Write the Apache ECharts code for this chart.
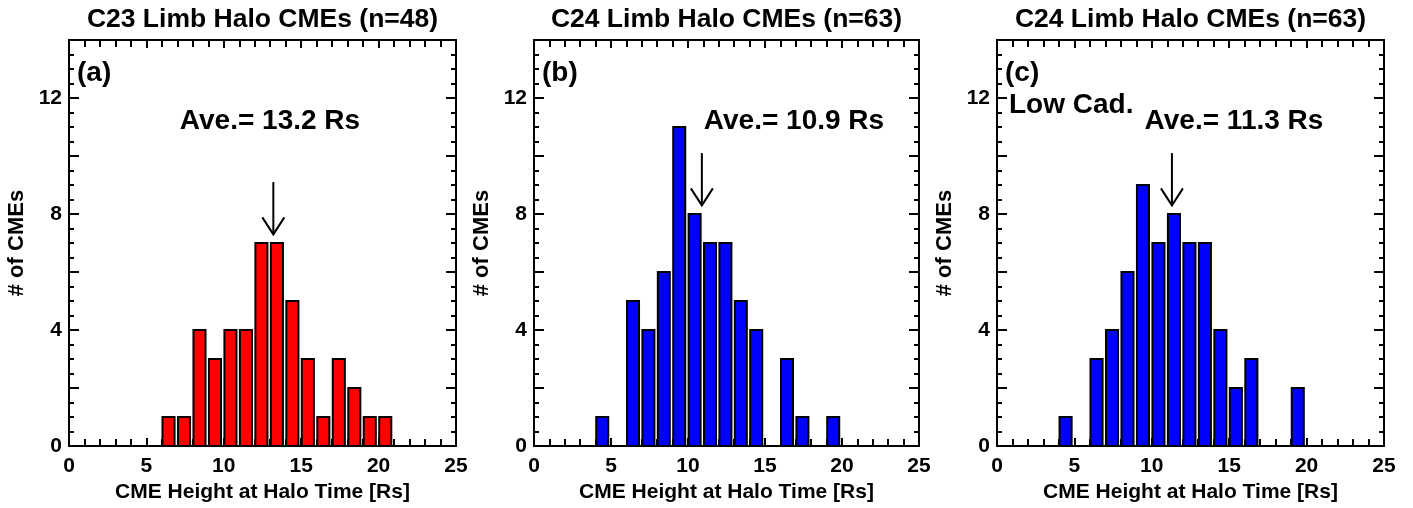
<!DOCTYPE html>
<html>
<head>
<meta charset="utf-8">
<script src="https://cdn.jsdelivr.net/npm/echarts@6/dist/echarts.min.js"></script>
<style>
html,body{margin:0;padding:0;background:#fff;}
#chart{width:1413px;height:508px;}
</style>
</head>
<body>
<div id="chart"></div>
<script>
// ---- data ----
const panelTitles = ['C23 Limb Halo CMEs (n=48)', 'C24 Limb Halo CMEs (n=63)', 'C24 Limb Halo CMEs (n=63)'];
const panelLabels = ['(a)', '(b)', '(c)'];
const extraLabels = ['', '', 'Low Cad.'];
const binsA = [6, 7, 8, 9, 10, 11, 12, 13, 14, 15, 16, 17, 18, 19, 20];
const countsA = [1, 1, 4, 3, 4, 4, 7, 7, 5, 3, 1, 3, 2, 1, 1];
const binsB = [4, 6, 7, 8, 9, 10, 11, 12, 13, 14, 16, 17, 19];
const countsB = [1, 5, 4, 6, 11, 8, 7, 7, 5, 4, 3, 1, 1];
const binsC = [4, 6, 7, 8, 9, 10, 11, 12, 13, 14, 15, 16, 19];
const countsC = [1, 3, 4, 6, 9, 7, 8, 7, 7, 4, 2, 3, 2];
const aveValues = [13.2, 10.9, 11.3];
const arrowTop = [9.1, 10.1, 10.1];
const arrowTip = [7.3, 8.3, 8.3];
const xTickLabels = [0, 5, 10, 15, 20, 25];
const yTickLabels = [0, 4, 8, 12];
const xName = 'CME Height at Halo Time [Rs]';
const yName = '# of CMEs';

// ---- layout / style ----
const FONT = '"Liberation Sans", Arial, Helvetica, sans-serif';
const grids = [
  {left: 69, top: 40, width: 387, height: 411},
  {left: 534, top: 40, width: 385, height: 411},
  {left: 997, top: 40, width: 387, height: 411}
];
const barColors = ['#ff0000', '#0000ff', '#0000ff'];
const binSets = [binsA, binsB, binsC];
const countSets = [countsA, countsB, countsC];
const aveTextX = [270, 794, 1234];

const chart = echarts.init(document.getElementById('chart'), null, {renderer: 'canvas'});

const tickStyle = {color: '#000', width: 2};
function xAxisDef(i, pos) {
  const main = pos === 'bottom';
  return {
    gridIndex: i, type: 'value', position: pos, min: 0, max: 25, interval: 5,
    axisLine: {show: true, onZero: false, lineStyle: {color: '#000', width: 2}},
    axisTick: {show: true, inside: true, length: 8, lineStyle: tickStyle},
    minorTick: {show: true, splitNumber: 5, length: 7, lineStyle: tickStyle},
    splitLine: {show: false},
    axisLabel: {
      show: main, margin: 10, color: '#000', fontSize: 21, fontWeight: 'bold', fontFamily: FONT,
      formatter: v => xTickLabels.indexOf(v) >= 0 ? String(v) : ''
    },
    name: main ? xName : '', nameLocation: 'middle', nameGap: 34,
    nameTextStyle: {color: '#000', fontSize: 21, fontWeight: 'bold', fontFamily: FONT}
  };
}
function yAxisDef(i, pos) {
  const main = pos === 'left';
  return {
    gridIndex: i, type: 'value', position: pos, min: 0, max: 14, interval: 2,
    axisLine: {show: true, onZero: false, lineStyle: {color: '#000', width: 2}},
    axisTick: {show: true, inside: true, length: 10, lineStyle: tickStyle},
    minorTick: {show: true, splitNumber: 4, length: 5, lineStyle: tickStyle},
    splitLine: {show: false},
    axisLabel: {
      show: main, margin: 7, color: '#000', fontSize: 21, fontWeight: 'bold', fontFamily: FONT,
      showMaxLabel: false,
      formatter: v => yTickLabels.indexOf(v) >= 0 ? String(v) : ''
    },
    name: main ? yName : '', nameLocation: 'middle', nameGap: 41, nameRotate: 90,
    nameTextStyle: {color: '#000', fontSize: 22, fontWeight: 'bold', fontFamily: FONT}
  };
}

const xAxes = [], yAxes = [], series = [], graphics = [];
for (let i = 0; i < 3; i++) {
  xAxes.push(xAxisDef(i, 'bottom'));
  yAxes.push(yAxisDef(i, 'left'));
}
for (let i = 0; i < 3; i++) {
  xAxes.push(xAxisDef(i, 'top'));
  yAxes.push(yAxisDef(i, 'right'));
}

for (let i = 0; i < 3; i++) {
  const color = barColors[i];
  series.push({
    type: 'custom', xAxisIndex: i, yAxisIndex: i,
    data: binSets[i].map((b, k) => [b, countSets[i][k]]),
    encode: {x: 0, y: 1},
    renderItem: function (params, api) {
      const x = api.value(0), h = api.value(1);
      const p0 = api.coord([x + 0.04, h]);
      const p1 = api.coord([x + 0.82, 0]);
      return {
        type: 'rect',
        shape: {x: p0[0], y: p0[1], width: p1[0] - p0[0], height: p1[1] - p0[1]},
        style: {fill: color, stroke: '#000', lineWidth: 2}
      };
    },
    z: 1
  });
  series.push({
    type: 'custom', xAxisIndex: i, yAxisIndex: i,
    data: [[aveValues[i], arrowTop[i], arrowTip[i]]],
    encode: {x: 0, y: [1, 2]},
    renderItem: function (params, api) {
      const top = api.coord([api.value(0), api.value(1)]);
      const tip = api.coord([api.value(0), api.value(2)]);
      return {
        type: 'group',
        children: [
          {type: 'line', shape: {x1: top[0], y1: top[1], x2: tip[0], y2: tip[1]},
           style: {stroke: '#000', lineWidth: 2}},
          {type: 'polyline', shape: {points: [[tip[0] - 11, tip[1] - 17], [tip[0], tip[1]], [tip[0] + 11, tip[1] - 17]]},
           style: {stroke: '#000', lineWidth: 2, fill: null}}
        ]
      };
    },
    z: 2
  });

  const g = grids[i];
  graphics.push({
    type: 'text', x: g.left + g.width / 2, y: 20,
    style: {text: panelTitles[i], font: 'bold 26.5px ' + FONT, fill: '#000', align: 'center', verticalAlign: 'middle'}
  });
  graphics.push({
    type: 'text', x: g.left + 8, y: 73,
    style: {text: panelLabels[i], font: 'bold 28px ' + FONT, fill: '#000', align: 'left', verticalAlign: 'middle'}
  });
  if (extraLabels[i]) {
    graphics.push({
      type: 'text', x: g.left + 12, y: 105,
      style: {text: extraLabels[i], font: 'bold 28px ' + FONT, fill: '#000', align: 'left', verticalAlign: 'middle'}
    });
  }
  graphics.push({
    type: 'text', x: aveTextX[i], y: 121,
    style: {text: 'Ave.= ' + aveValues[i].toFixed(1) + ' Rs', font: 'bold 28px ' + FONT, fill: '#000', align: 'center', verticalAlign: 'middle'}
  });
}

chart.setOption({
  backgroundColor: '#fff',
  animation: false,
  grid: grids,
  xAxis: xAxes,
  yAxis: yAxes,
  series: series,
  graphic: graphics
});
</script>
</body>
</html>
